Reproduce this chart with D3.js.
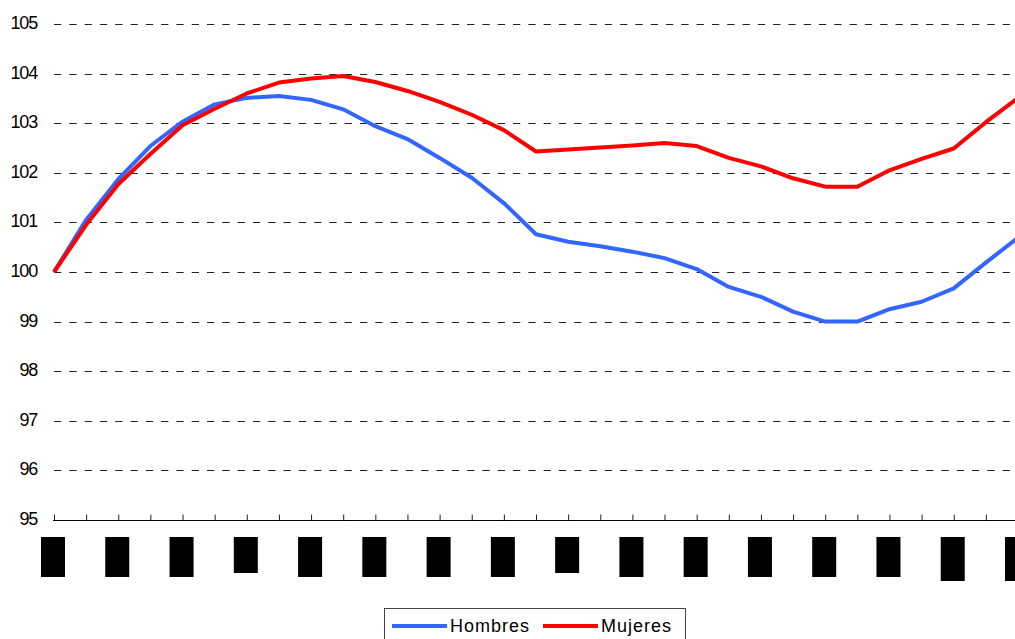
<!DOCTYPE html>
<html>
<head>
<meta charset="utf-8">
<script src="https://cdn.jsdelivr.net/npm/d3@7/dist/d3.min.js"></script>
<style>
  html, body { margin: 0; padding: 0; background: #fff; }
  svg { display: block; }
  text { font-family: "Liberation Sans", Arial, sans-serif; }
</style>
</head>
<body>
<svg id="chart" width="1015" height="639"></svg>
<script>
// Index series (base = 100), one value per period
const periods = d3.range(31);
const hombres = [100.00, 101.05, 101.87, 102.54, 103.03, 103.38, 103.51, 103.55, 103.47, 103.28,
                 102.94, 102.68, 102.30, 101.90, 101.39, 100.76, 100.61, 100.52, 100.41, 100.28,
                 100.06, 99.70, 99.50, 99.20, 99.00, 99.00, 99.25, 99.40, 99.67, 100.19, 100.69];
const mujeres = [100.00, 100.95, 101.77, 102.38, 102.96, 103.29, 103.60, 103.82, 103.90, 103.95,
                 103.83, 103.65, 103.43, 103.17, 102.86, 102.43, 102.47, 102.51, 102.55, 102.60,
                 102.54, 102.30, 102.13, 101.89, 101.72, 101.72, 102.05, 102.28, 102.49, 103.02, 103.51];
const yTicks = [95, 96, 97, 98, 99, 100, 101, 102, 103, 104, 105];
const seriesNames = ["Hombres", "Mujeres"];
// Periods carrying a (blacked-out) category label: every second one
const labelledPeriods = d3.range(0, 31, 2);

const colors = { Hombres: "#3366ff", Mujeres: "#ff0000" };
const svg = d3.select("#chart");

const x = d3.scaleLinear().domain([0, 30]).range([54, 1018]);
const y = d3.scaleLinear().domain([95, 105]).range([520, 24]);

// Dashed horizontal gridlines
svg.append("g")
  .selectAll("line")
  .data(yTicks.filter(v => v > 95))
  .join("line")
  .attr("x1", 54).attr("x2", 1015)
  .attr("y1", d => Math.round(y(d)) + 0.5)
  .attr("y2", d => Math.round(y(d)) + 0.5)
  .attr("stroke", "#222")
  .attr("stroke-width", 1)
  .attr("stroke-dasharray", "7.3,8");

// Y axis labels (no axis line)
svg.append("g")
  .selectAll("text")
  .data(yTicks)
  .join("text")
  .attr("x", 37)
  .attr("y", d => y(d) - 1)
  .attr("text-anchor", "end")
  .attr("dominant-baseline", "central")
  .attr("font-size", 18)
  .attr("letter-spacing", "-1.2px")
  .attr("fill", "#000")
  .text(d => d);

// Bottom axis with inward tick marks
const xAxis = d3.axisBottom(x)
  .tickValues(periods)
  .tickSizeInner(-6)
  .tickSizeOuter(0)
  .tickFormat("");
const gx = svg.append("g")
  .attr("transform", `translate(0,${Math.round(y(95)) + 0.5})`)
  .call(xAxis);
gx.select(".domain").attr("stroke", "#000").attr("stroke-width", 1.2)
  .attr("d", `M53,0H1015`);
gx.selectAll(".tick line").attr("stroke", "#222");

// Category labels, rendered as solid black blocks
const boxDepth = i => (i === 3 || i === 8) ? 36 : (i >= 14 ? 44 : 40);
svg.append("g")
  .selectAll("rect")
  .data(labelledPeriods)
  .join("rect")
  .attr("x", d => x(d) - 13)
  .attr("y", 537)
  .attr("width", 24)
  .attr("height", (d, i) => boxDepth(i))
  .attr("fill", "#000");

// Series lines
const line = d3.line().x((d, i) => x(i)).y(d => y(d));
const seriesData = { Hombres: hombres, Mujeres: mujeres };
svg.append("g")
  .selectAll("path")
  .data(seriesNames)
  .join("path")
  .attr("d", n => line(seriesData[n]))
  .attr("fill", "none")
  .attr("stroke", n => colors[n])
  .attr("stroke-width", 4)
  .attr("stroke-linejoin", "round");

// Legend
const legend = svg.append("g");
legend.append("rect")
  .attr("x", 384.5).attr("y", 608.5)
  .attr("width", 301).attr("height", 40)
  .attr("fill", "#fff")
  .attr("stroke", "#444")
  .attr("stroke-width", 1);
const legendX = { Hombres: 392, Mujeres: 543 };
const items = legend.selectAll("g.item")
  .data(seriesNames)
  .join("g")
  .attr("class", "item")
  .attr("transform", n => `translate(${legendX[n]},626)`);
items.append("line")
  .attr("x1", 0).attr("x2", 55)
  .attr("stroke", n => colors[n])
  .attr("stroke-width", 4);
items.append("text")
  .attr("x", 58)
  .attr("y", 0)
  .attr("dominant-baseline", "central")
  .attr("font-size", 18)
  .attr("letter-spacing", "1px")
  .attr("fill", "#000")
  .text(n => n);
</script>
</body>
</html>
